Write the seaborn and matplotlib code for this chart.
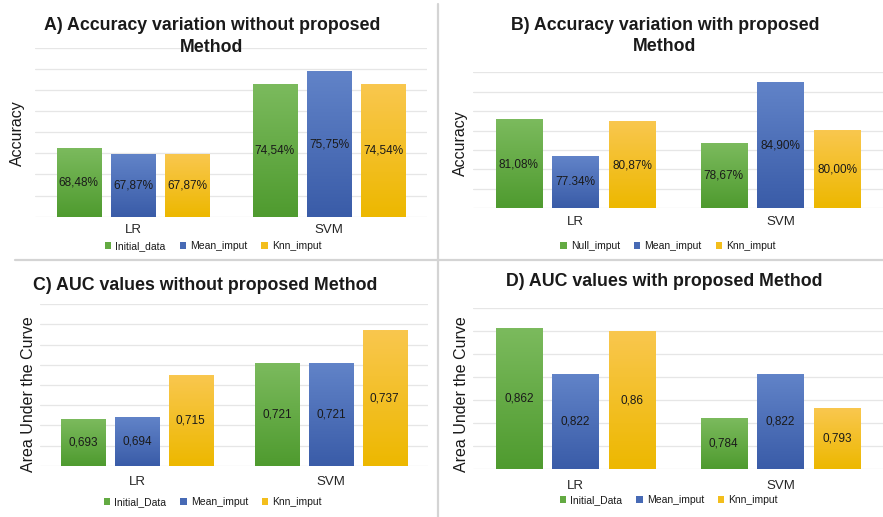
import numpy as np
import pandas as pd
import matplotlib.pyplot as plt
import seaborn as sns
from matplotlib.colors import LinearSegmentedColormap
from matplotlib.lines import Line2D

# data
models = ['LR', 'SVM']

methods_a = ['Initial_data', 'Mean_imput', 'Knn_imput']
acc_without_lr = [68.48, 67.87, 67.87]
acc_without_svm = [74.54, 75.75, 74.54]
labels_a = ['68,48%', '67,87%', '67,87%', '74,54%', '75,75%', '74,54%']

methods_b = ['Null_imput', 'Mean_imput', 'Knn_imput']
acc_with_lr = [81.08, 77.34, 80.87]
acc_with_svm = [78.67, 84.90, 80.00]
labels_b = ['81,08%', '77.34%', '80,87%', '78,67%', '84,90%', '80,00%']

methods_c = ['Initial_Data', 'Mean_imput', 'Knn_imput']
auc_without_lr = [0.693, 0.694, 0.715]
auc_without_svm = [0.721, 0.721, 0.737]
labels_c = ['0,693', '0,694', '0,715', '0,721', '0,721', '0,737']

methods_d = ['Initial_Data', 'Mean_imput', 'Knn_imput']
auc_with_lr = [0.862, 0.822, 0.86]
auc_with_svm = [0.784, 0.822, 0.793]
labels_d = ['0,862', '0,822', '0,86', '0,784', '0,822', '0,793']

W, H = 883, 517
mid_colors = ['#63aa42', '#476ab5', '#f3be1c']
grad_colors = [('#4f9b2f', '#7bba5d'), ('#3a5ca8', '#6183c8'), ('#edb800', '#f9c74e')]

sns.set_style('white')
plt.rcParams['font.family'] = ['Liberation Sans', 'DejaVu Sans']
plt.rcParams['text.color'] = '#1a1a1a'

fig = plt.figure(figsize=(W / 100, H / 100), dpi=100)


def px_axes(left, top, right, bottom):
    return fig.add_axes([left / W, 1 - bottom / H, (right - left) / W, (bottom - top) / H])


def fig_text(x, y, s, **kw):
    fig.text(x / W, 1 - y / H, s, **kw)


def panel(rect, methods, lr, svm, labels, ylim, step, title, title_xy,
          ylabel, ylabel_xy, legend_xy, tick_pad):
    ax = px_axes(*rect)
    df = pd.DataFrame({
        'model': np.repeat(models, 3),
        'method': methods * 2,
        'value': lr + svm,
    })
    sns.barplot(data=df, x='model', y='value', hue='method', hue_order=methods,
                palette=mid_colors, width=0.83, gap=0.18, saturation=1,
                edgecolor='none', ax=ax)

    ax.set_ylim(*ylim)
    ax.set_yticks(np.arange(ylim[0], ylim[1] + step / 2, step))
    ax.set_yticklabels([])
    ax.tick_params(axis='y', length=0)
    ax.tick_params(axis='x', length=0, labelsize=9.5, pad=tick_pad)
    ax.grid(axis='y', color='#e6e6e6', linewidth=0.9)
    ax.set_axisbelow(True)
    sns.despine(ax=ax, left=True, bottom=True)
    ax.set_xlabel('')
    ax.set_ylabel('')

    # gradient fill over each bar
    for i, cont in enumerate(ax.containers):
        cmap = LinearSegmentedColormap.from_list('g', grad_colors[i])
        for bar in cont:
            x0 = bar.get_x()
            x1 = x0 + bar.get_width()
            y1 = bar.get_y() + bar.get_height()
            ax.imshow(np.linspace(0, 1, 64).reshape(-1, 1), cmap=cmap, origin='lower',
                      extent=[x0, x1, ylim[0], y1], aspect='auto', zorder=2)
        ax.bar_label(cont, labels=[labels[i], labels[i + 3]], label_type='center',
                     fontsize=8.5, color='#1a1a1a', zorder=4)
    ax.set_xlim(-0.5, 1.5)
    ax.set_ylim(*ylim)

    leg = ax.get_legend()
    handles = leg.legend_handles
    texts = [t.get_text() for t in leg.get_texts()]
    leg.remove()
    ax.legend(handles, texts, loc='center', ncol=3, frameon=False, fontsize=7.5,
              bbox_to_anchor=(legend_xy[0] / W, 1 - legend_xy[1] / H),
              bbox_transform=fig.transFigure, handlelength=0.6, handleheight=0.6,
              handletextpad=0.4, columnspacing=1.35)

    fig_text(title_xy[0], title_xy[1], title, ha='center', va='center',
             fontsize=12.8, fontweight='bold', linespacing=1.34)
    fig_text(ylabel_xy[0], ylabel_xy[1], ylabel, ha='center', va='center',
             rotation=90, fontsize=11.5)
    return ax


panel((35, 47.7, 427, 216.7), methods_a, acc_without_lr, acc_without_svm, labels_a,
      (62, 78), 2, 'A) Accuracy variation without proposed\nMethod', (212, 36.5),
      'Accuracy', (17, 133), (213, 246), 5.0)

panel((473, 72.3, 883, 208.3), methods_b, acc_with_lr, acc_with_svm, labels_b,
      (72, 86), 2, 'B) Accuracy variation with proposed\nMethod', (665, 36),
      'Accuracy', (460, 143), (668, 246), 5.3)

panel((40, 304.3, 428, 465.7), methods_c, auc_without_lr, auc_without_svm, labels_c,
      (0.67, 0.75), 0.01, 'C) AUC values without proposed Method', (205, 285),
      'Area Under the Curve', (29, 394), (213, 502), 7.3)

panel((473, 308.3, 883, 469), methods_d, auc_with_lr, auc_with_svm, labels_d,
      (0.74, 0.88), 0.02, 'D) AUC values with proposed Method', (664, 282),
      'Area Under the Curve', (461, 394), (669, 500), 8.0)

# panel dividers
fig.add_artist(Line2D([438 / W, 438 / W], [1 - 4 / H, 0], color='#d4d4d4',
                      linewidth=1.6, transform=fig.transFigure))
fig.add_artist(Line2D([15 / W, 1], [1 - 260 / H, 1 - 260 / H], color='#d4d4d4',
                      linewidth=1.6, transform=fig.transFigure))

plt.savefig('out.png', dpi=100)
